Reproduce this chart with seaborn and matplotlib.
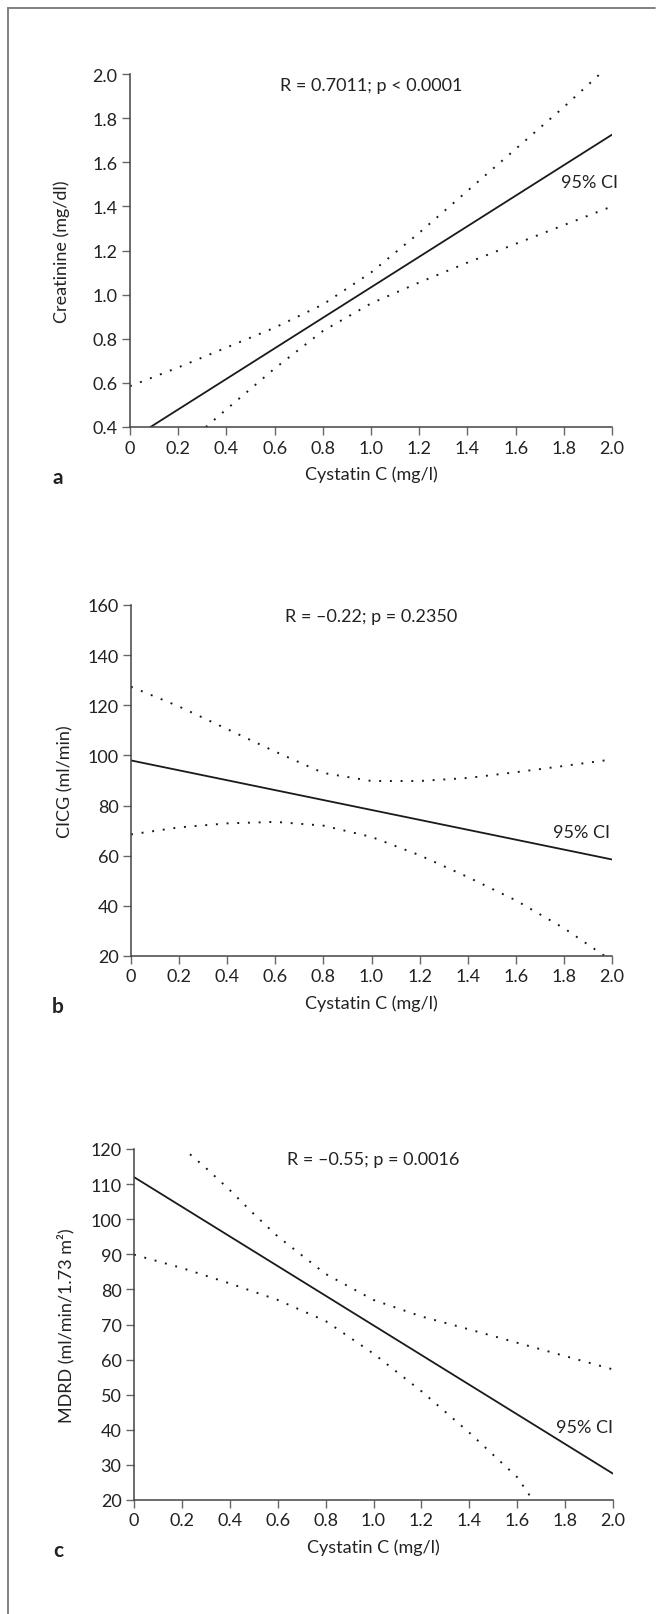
import matplotlib
matplotlib.use("Agg")
import matplotlib.pyplot as plt
from matplotlib.lines import Line2D
import seaborn as sns

# ---------------- data ----------------
x_ticks = [0, 0.2, 0.4, 0.6, 0.8, 1.0, 1.2, 1.4, 1.6, 1.8, 2.0]
x_tick_labels = ["0", "0.2", "0.4", "0.6", "0.8", "1.0", "1.2", "1.4", "1.6", "1.8", "2.0"]

# panel a: creatinine
a_fit_x = [0.085, 2.0]
a_fit_y = [0.40, 1.725]
a_up_x = [0.0, 0.2, 0.4, 0.6, 0.8, 1.0, 1.2, 1.4, 1.6, 1.8, 1.95]
a_up_y = [0.585, 0.67, 0.76, 0.85, 0.955, 1.10, 1.28, 1.47, 1.66, 1.85, 2.0]
a_lo_x = [0.315, 0.4, 0.6, 0.8, 1.0, 1.2, 1.4, 1.6, 1.8, 2.0]
a_lo_y = [0.40, 0.48, 0.665, 0.835, 0.96, 1.055, 1.145, 1.23, 1.315, 1.40]
a_yticks = [0.4, 0.6, 0.8, 1.0, 1.2, 1.4, 1.6, 1.8, 2.0]

# panel b: CICG
b_fit_x = [0.0, 2.0]
b_fit_y = [98.0, 58.5]
b_up_x = [0.0, 0.2, 0.4, 0.6, 0.8, 1.0, 1.2, 1.4, 1.6, 1.8, 2.0]
b_up_y = [127.4, 119.5, 110.5, 101.5, 93.0, 89.8, 89.8, 91.0, 93.3, 95.8, 98.4]
b_lo_x = [0.0, 0.2, 0.4, 0.6, 0.8, 1.0, 1.2, 1.4, 1.6, 1.8, 1.97]
b_lo_y = [68.5, 71.3, 72.9, 73.5, 72.0, 67.5, 60.2, 51.5, 42.2, 31.1, 20.0]
b_yticks = [20, 40, 60, 80, 100, 120, 140, 160]

# panel c: MDRD
c_fit_x = [0.0, 2.0]
c_fit_y = [112.0, 27.5]
c_up_x = [0.2, 0.3, 0.4, 0.5, 0.6, 0.8, 1.0, 1.2, 1.4, 1.6, 1.8, 2.0]
c_up_y = [120.5, 114.6, 108.3, 101.5, 95.1, 84.4, 77.0, 72.3, 68.6, 64.8, 61.0, 57.2]
c_lo_x = [0.0, 0.2, 0.4, 0.6, 0.8, 1.0, 1.2, 1.4, 1.6, 1.665]
c_lo_y = [89.9, 86.1, 81.7, 77.0, 71.0, 61.7, 51.0, 39.2, 26.5, 20.0]
c_yticks = [20, 30, 40, 50, 60, 70, 80, 90, 100, 110, 120]

panels = [
    dict(letter="a", fit=(a_fit_x, a_fit_y), up=(a_up_x, a_up_y), lo=(a_lo_x, a_lo_y),
         yticks=a_yticks, ylabels=[f"{v:.1f}" for v in a_yticks], ylim=(0.4, 2.0),
         ylabel="Creatinine (mg/dl)", stat="R = 0.7011; p < 0.0001",
         rect=(130, 75, 612, 428), stat_y=0.969, ci_xy=(1.012, 0.694), ylab_x=62),
    dict(letter="b", fit=(b_fit_x, b_fit_y), up=(b_up_x, b_up_y), lo=(b_lo_x, b_lo_y),
         yticks=b_yticks, ylabels=[str(v) for v in b_yticks], ylim=(20, 160),
         ylabel="CICG (ml/min)", stat="R = \u20130.22; p = 0.2350",
         rect=(131, 606, 612, 957), stat_y=0.969, ci_xy=(0.996, 0.353), ylab_x=65),
    dict(letter="c", fit=(c_fit_x, c_fit_y), up=(c_up_x, c_up_y), lo=(c_lo_x, c_lo_y),
         yticks=c_yticks, ylabels=[str(v) for v in c_yticks], ylim=(20, 120),
         ylabel="MDRD (ml/min/1.73 m\u00b2)", stat="R = \u20130.55; p = 0.0016",
         rect=(134, 1150, 613, 1501), stat_y=0.972, ci_xy=(1.0, 0.208), ylab_x=66),
]

# ---------------- style ----------------
sns.set_theme(style="ticks")
plt.rcParams["font.family"] = ["Lato", "DejaVu Sans"]
plt.rcParams["axes.edgecolor"] = "#444444"
plt.rcParams["xtick.color"] = "#666666"
plt.rcParams["ytick.color"] = "#666666"
plt.rcParams["xtick.labelcolor"] = "#222222"
plt.rcParams["ytick.labelcolor"] = "#222222"

FS = 13
W, H = 663, 1615
fig = plt.figure(figsize=(W / 100, H / 100), dpi=100)

dot = (0, (1.0, 4.5))
for p in panels:
    l, t, r, b = p["rect"]
    ax = fig.add_axes([l / W, 1 - b / H, (r - l) / W, (b - t) / H])
    fx, fy = p["fit"]
    ux, uy = p["up"]
    lx, ly = p["lo"]
    sns.lineplot(x=fx, y=fy, ax=ax, color="#1a1a1a", lw=1.3, estimator=None, sort=False)
    sns.lineplot(x=ux, y=uy, ax=ax, color="#1a1a1a", lw=1.4, estimator=None, sort=False,
                 linestyle=dot)
    sns.lineplot(x=lx, y=ly, ax=ax, color="#1a1a1a", lw=1.4, estimator=None, sort=False,
                 linestyle=dot)
    ax.set_xlim(0, 2.0)
    ax.set_ylim(*p["ylim"])
    ax.set_xticks(x_ticks)
    ax.set_xticklabels(x_tick_labels)
    ax.set_yticks(p["yticks"])
    ax.set_yticklabels(p["ylabels"])
    ax.tick_params(axis="both", direction="out", length=5.5, width=1.0, labelsize=FS, pad=3.5)
    for s in ["top", "right"]:
        ax.spines[s].set_visible(False)
    for s in ["left", "bottom"]:
        ax.spines[s].set_linewidth(1.1)
    ax.set_xlabel("Cystatin C (mg/l)", fontsize=FS, color="#222222", labelpad=7)
    ax.set_ylabel("")
    ax.grid(False)
    fig.text(p["ylab_x"] / W, 1 - ((t + b) / 2) / H, p["ylabel"], rotation=90,
             ha="center", va="center", fontsize=FS, color="#222222")
    ax.text(0.5, p["stat_y"], p["stat"], transform=ax.transAxes, ha="center", va="center",
            fontsize=FS, color="#222222")
    ax.text(p["ci_xy"][0], p["ci_xy"][1], "95% CI", transform=ax.transAxes, ha="right",
            va="center", fontsize=FS, color="#222222")
    fig.text(58 / W, 1 - (b + 50) / H, p["letter"], ha="center", va="center",
             fontsize=15, fontweight="bold", color="#222222")

# outer frame (left and top edges)
fig.add_artist(Line2D([8 / W, 8 / W], [0, 1 - 9 / H], transform=fig.transFigure,
                      color="#777777", lw=1.3))
fig.add_artist(Line2D([8 / W, 655 / W], [1 - 9 / H, 1 - 9 / H], transform=fig.transFigure,
                      color="#777777", lw=1.3))

fig.savefig("out.png", dpi=100, facecolor="white")
